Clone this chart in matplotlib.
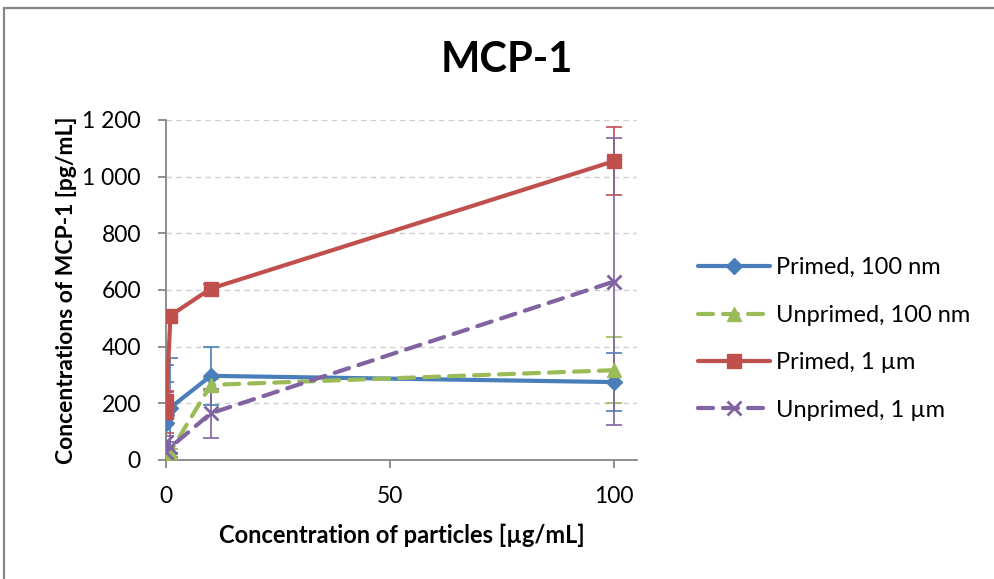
import matplotlib
matplotlib.use("Agg")
import matplotlib.pyplot as plt
from matplotlib.patches import Rectangle

plt.rcParams['font.family'] = ['Lato', 'DejaVu Sans']

# particle concentration [ug/mL]
conc = [0, 0.1, 1, 10, 100]

primed_100nm = [130, 160, 185, 297, 275]
primed_100nm_err = [145, 175, 175, 103, 103]

unprimed_100nm = [5, 15, 30, 265, 317]
unprimed_100nm_err = [10, 10, 10, 20, 117]

primed_1um = [170, 210, 510, 605, 1055]
primed_1um_err = [75, 30, 20, 15, 120]

unprimed_1um = [30, 65, 45, 165, 630]
unprimed_1um_err = [20, 20, 20, 87, 505]

labels = ["Primed, 100 nm", "Unprimed, 100 nm", "Primed, 1 µm", "Unprimed, 1 µm"]
colors = ["#4A7EBB", "#9BBB59", "#C0504D", "#8064A2"]
markers = ["D", "^", "s", "x"]
msizes = [8, 10, 10, 10]
styles = ["-", (0, (3.6, 2.4)), "-", (0, (3.6, 2.4))]

series = [
    (primed_100nm, primed_100nm_err),
    (unprimed_100nm, unprimed_100nm_err),
    (primed_1um, primed_1um_err),
    (unprimed_1um, unprimed_1um_err),
]

fig = plt.figure(figsize=(9.94, 5.79), dpi=100)
ax = fig.add_axes([166 / 994, 1 - 460 / 579, (637 - 166) / 994, (460 - 120) / 579])

# chart frame
fig.patches.append(Rectangle((3.5 / 994, -0.1), 1.2, 1 - 7.5 / 579 + 0.1,
                             transform=fig.transFigure, fill=False,
                             edgecolor="#878787", linewidth=1.6))

for i, ((vals, errs), lab, c, m, ms, ls) in enumerate(
        zip(series, labels, colors, markers, msizes, styles)):
    ax.errorbar(conc, vals, yerr=errs, fmt="none", ecolor=c, elinewidth=1.2,
                capsize=6, capthick=1.2, zorder=2 + i * 0.1)
    ax.plot(conc, vals, color=c, linestyle=ls, linewidth=3, marker=m,
            markersize=ms, markeredgewidth=2 if m == "x" else 1,
            markeredgecolor=c, markerfacecolor=c, label=lab,
            dash_capstyle="round", solid_capstyle="round", zorder=3 + i * 0.1)

ax.set_xlim(0, 105.1)
ax.set_ylim(0, 1200)
ax.set_xticks([0, 50, 100])
ax.set_yticks(range(0, 1201, 200))
ax.set_yticklabels(["0", "200", "400", "600", "800", "1 000", "1 200"])
ax.yaxis.grid(True, color="#D0D0D0", linestyle=(0, (4, 3)), linewidth=1)
ax.set_axisbelow(True)

for s in ["top", "right"]:
    ax.spines[s].set_visible(False)
for s in ["left", "bottom"]:
    ax.spines[s].set_color("#868686")
    ax.spines[s].set_linewidth(1.3)
ax.tick_params(axis="both", colors="#868686", labelcolor="black",
               labelsize=16.5, length=6, width=1.3, direction="out")
ax.tick_params(axis="x", pad=13)
ax.tick_params(axis="y", pad=12)

ax.set_xlabel("Concentration of particles [µg/mL]", fontsize=17, fontweight="bold",
              labelpad=12)
ax.set_ylabel("Concentrations of MCP-1 [pg/mL]", fontsize=16.5, fontweight="bold",
              labelpad=4)

fig.text(507 / 994, 1 - 60 / 579, "MCP-1", fontsize=30, fontweight="bold",
         ha="center", va="center")

leg = fig.legend(loc="center left", bbox_to_anchor=(698 / 994, 1 - 339 / 579),
                 frameon=False, fontsize=17, handlelength=3.05, numpoints=1,
                 labelspacing=1.12, handletextpad=0.25, borderpad=0,
                 borderaxespad=0)

fig.savefig("out.png", dpi=100)
